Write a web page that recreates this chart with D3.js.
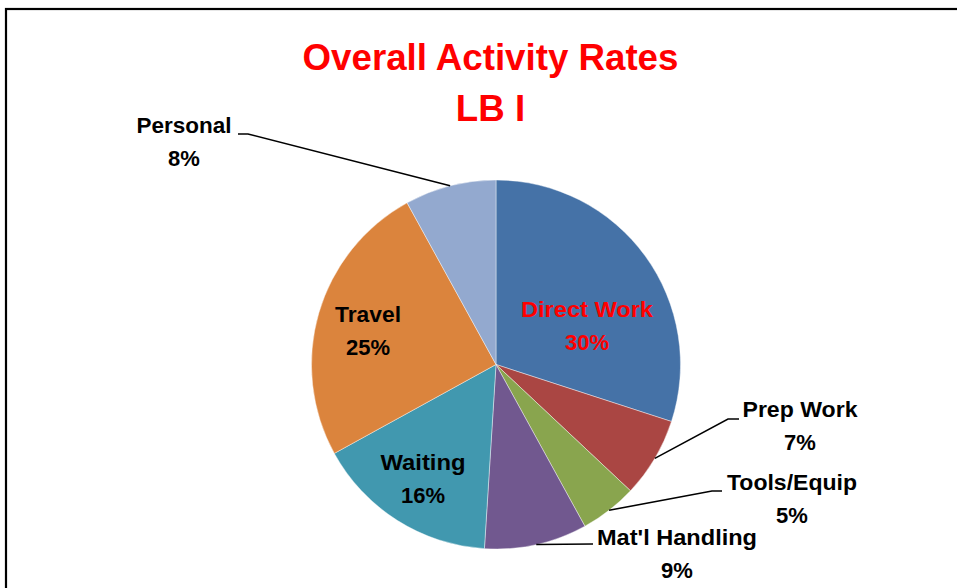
<!DOCTYPE html>
<html>
<head>
<meta charset="utf-8">
<script src="https://cdn.jsdelivr.net/npm/d3@7"></script>
<style>
  body { margin: 0; background: #fff; }
  text { font-family: "Liberation Sans", Arial, sans-serif; font-weight: bold; }
</style>
</head>
<body>
<svg width="957" height="588"></svg>
<script>
// data
var categories = ["Direct Work", "Prep Work", "Tools/Equip", "Mat'l Handling", "Waiting", "Travel", "Personal"];
var values = [30, 7, 5, 9, 16, 25, 8];
var colors = ["#4572A7", "#AA4643", "#89A54E", "#71588F", "#4198AF", "#DB843D", "#93A9CF"];
var titleLines = ["Overall Activity Rates", "LB I"];

// label layout: centre x, baseline of first line, leader elbow/end, width of the name line
var labelPos = [
    {x: 587, y: 317, fill: "red", w: 132},
    {x: 800, y: 417, elbow: [728, 419], end: [739, 419], w: 115},
    {x: 792, y: 490, elbow: [712, 491], end: [722, 491], w: 130},
    {x: 677, y: 545, elbow: null, end: [593, 544], w: 160},
    {x: 423, y: 470, w: 85},
    {x: 368, y: 322, w: 66},
    {x: 184, y: 133, elbow: [248, 134], end: [238, 134], w: 95}
];

var svg = d3.select("svg");
var cx = 496, cy = 364.5, r = 184.5;

svg.append("rect")
    .attr("x", 6).attr("y", 9)
    .attr("width", 1000).attr("height", 700)
    .attr("fill", "none").attr("stroke", "#000").attr("stroke-width", 2.2);

svg.selectAll("text.title")
    .data(titleLines)
    .enter().append("text")
    .attr("class", "title")
    .attr("x", 490.5)
    .attr("y", function(d, i) { return 69.5 + i * 51; })
    .attr("text-anchor", "middle")
    .attr("fill", "#ff0000")
    .attr("font-size", 36.7)
    .text(function(d) { return d; });

var pie = d3.pie().sort(null).value(function(d) { return d; });
var arcs = pie(values);
var arc = d3.arc().innerRadius(0).outerRadius(r);

var g = svg.append("g").attr("transform", "translate(" + cx + "," + cy + ")");

g.selectAll("path")
    .data(arcs)
    .enter().append("path")
    .attr("d", arc)
    .attr("fill", function(d, i) { return colors[i]; })
    .attr("stroke", "#fff")
    .attr("stroke-width", 0.6)
    .attr("stroke-opacity", 0.7);

// leader lines start on the rim at each slice's mid angle
arcs.forEach(function(d, i) {
    var p = labelPos[i];
    if (!p.end) return;
    var a = (d.startAngle + d.endAngle) / 2;
    var start = [cx + r * Math.sin(a), cy - r * Math.cos(a)];
    var pts = [start];
    if (p.elbow) pts.push(p.elbow);
    pts.push(p.end);
    svg.append("path")
        .attr("d", d3.line()(pts))
        .attr("fill", "none")
        .attr("stroke", "#000")
        .attr("stroke-width", 1.5);
});

var total = d3.sum(values);
arcs.forEach(function(d, i) {
    var p = labelPos[i];
    var t = svg.append("text")
        .attr("text-anchor", "middle")
        .attr("font-size", 22)
        .attr("fill", p.fill || "#000");
    t.append("tspan").attr("x", p.x).attr("y", p.y)
        .attr("textLength", p.w).attr("lengthAdjust", "spacingAndGlyphs")
        .text(categories[i]);
    t.append("tspan").attr("x", p.x).attr("y", p.y + 33)
        .text(Math.round(values[i] / total * 100) + "%");
});
</script>
</body>
</html>
